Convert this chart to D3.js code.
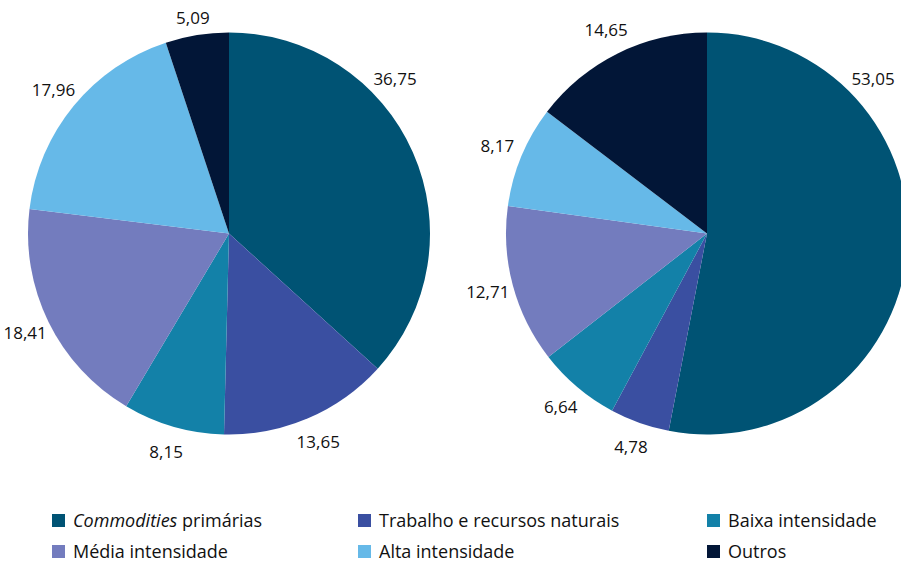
<!DOCTYPE html>
<html>
<head>
<meta charset="utf-8">
<script src="https://cdn.jsdelivr.net/npm/d3@7"></script>
<style>
  body { margin: 0; background: #fff; }
  svg { display: block; font-family: "Open Sans", sans-serif; }
</style>
</head>
<body>
<svg class="chart"></svg>
<script>
const width = 901;
const height = 563;

const categories = [
  "Commodities primárias",
  "Trabalho e recursos naturais",
  "Baixa intensidade",
  "Média intensidade",
  "Alta intensidade",
  "Outros",
];
const leftValues = [36.75, 13.65, 8.15, 18.41, 17.96, 5.09];
const rightValues = [53.05, 4.78, 6.64, 12.71, 8.17, 14.65];
const colors = ["#005374", "#3a4fa1", "#1381a8", "#737cbe", "#66b9e8", "#021637"];

const radius = 201;
const labelRadius = 227;

const svg = d3.select(".chart").attr("width", width).attr("height", height);

const color = d3.scaleOrdinal().domain(categories).range(colors);

const pie = d3.pie().sort(null).value((d) => d.value);
const arc = d3.arc().innerRadius(0).outerRadius(radius);

const fmt = (v) => v.toFixed(2).replace(".", ",");

function drawPie(values, cx, cy) {
  const data = categories.map((c, i) => ({ name: c, value: values[i] }));
  const g = svg.append("g").attr("transform", `translate(${cx},${cy})`);
  const arcs = pie(data);

  g.selectAll("path")
    .data(arcs)
    .enter()
    .append("path")
    .attr("d", arc)
    .attr("fill", (d) => color(d.data.name));

  g.selectAll("text")
    .data(arcs)
    .enter()
    .append("text")
    .attr("transform", (d) => {
      // the big first slice has its label pulled up towards the top right
      let a = (d.startAngle + d.endAngle) / 2;
      if (d.index === 0) a = Math.min(a, (47 * Math.PI) / 180);
      const x = Math.sin(a) * labelRadius;
      const y = Math.max(-Math.cos(a) * labelRadius, -215);
      return `translate(${x},${y})`;
    })
    .attr("text-anchor", "middle")
    .attr("dy", "0.35em")
    .style("font-size", "17px")
    .style("fill", "#111")
    .text((d) => fmt(d.data.value));
}

drawPie(leftValues, 229, 233.5);
drawPie(rightValues, 707, 233.5);

// legend
const legendCols = [52, 358, 707];
const legendRows = [521, 552];

const legend = svg
  .selectAll(".legend")
  .data(categories)
  .enter()
  .append("g")
  .attr("class", "legend")
  .attr(
    "transform",
    (d, i) => `translate(${legendCols[i % 3]},${legendRows[Math.floor(i / 3)]})`
  );

legend
  .append("rect")
  .attr("x", 0)
  .attr("y", -7)
  .attr("width", 13)
  .attr("height", 13)
  .attr("fill", (d) => color(d));

const legendText = legend
  .append("text")
  .attr("x", 21)
  .attr("dy", "0.35em")
  .style("font-size", "18px")
  .style("fill", "#111");

legendText.each(function (d) {
  const t = d3.select(this);
  if (d.startsWith("Commodities")) {
    t.append("tspan").style("font-style", "italic").text("Commodities");
    t.append("tspan").text(" primárias");
  } else {
    t.text(d);
  }
});
</script>
</body>
</html>
